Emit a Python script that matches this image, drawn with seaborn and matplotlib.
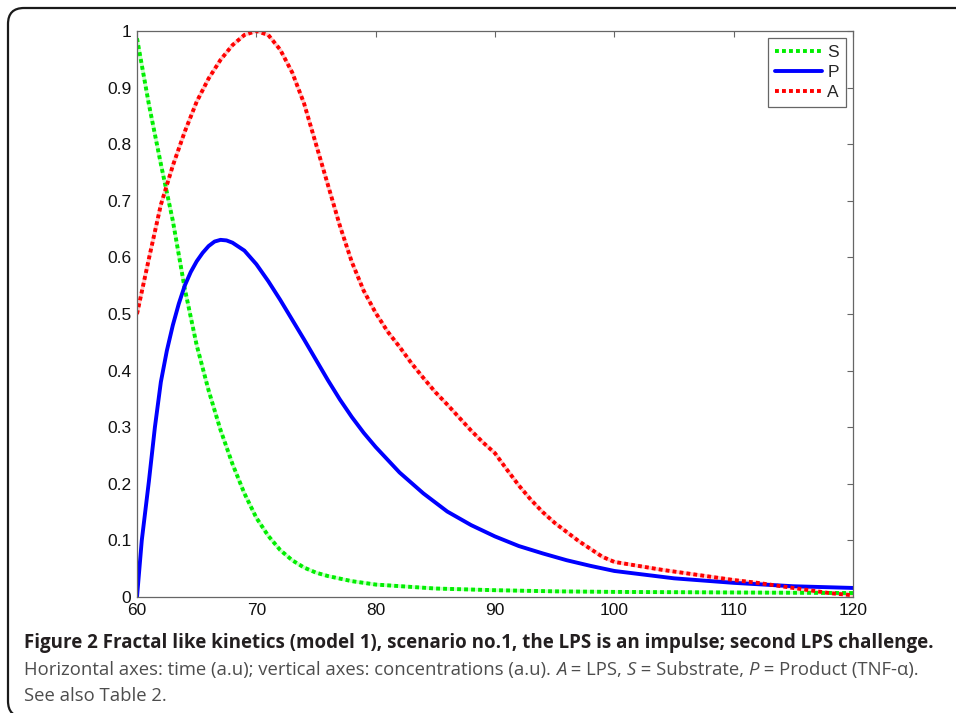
import numpy as np
import pandas as pd
import matplotlib
matplotlib.use('Agg')
import matplotlib.pyplot as plt
from matplotlib.patches import FancyBboxPatch
import seaborn as sns

# ---- data ----
s_time = [60, 61, 62, 63, 64, 65, 66, 67, 68, 69, 70, 71, 72, 73, 74, 75, 76, 78, 80,
          85, 90, 95, 100, 110, 120]
s_conc = [0.987, 0.87, 0.765, 0.665, 0.545, 0.445, 0.365, 0.295, 0.235, 0.183, 0.14, 0.108,
          0.083, 0.065, 0.052, 0.043, 0.037, 0.028, 0.022, 0.015, 0.012, 0.010, 0.009,
          0.008, 0.007]

p_time = [60, 60.4, 61, 61.5, 62, 62.5, 63, 63.5, 64, 64.5, 65, 65.5, 66, 66.5, 67, 67.5,
          68, 69, 70, 71, 72, 73, 74, 75, 76, 77, 78, 79, 80, 82, 84, 86, 88, 90, 92, 94,
          96, 98, 100, 105, 110, 115, 120]
p_conc = [0.0, 0.10, 0.205, 0.30, 0.38, 0.435, 0.48, 0.518, 0.55, 0.574, 0.593, 0.608, 0.62,
          0.628, 0.631, 0.630, 0.626, 0.612, 0.588, 0.558, 0.525, 0.49, 0.455, 0.419, 0.383,
          0.349, 0.318, 0.29, 0.265, 0.22, 0.183, 0.151, 0.127, 0.107, 0.09, 0.077, 0.065,
          0.055, 0.046, 0.033, 0.025, 0.019, 0.016]

a_time = [60, 61, 62, 63, 64, 65, 66, 67, 68, 69, 70, 71, 72, 73, 74, 75, 76, 77, 78, 79,
          80, 81, 82, 83, 84, 85, 86, 87, 88, 89, 90, 91, 92, 93, 94, 95, 96, 97, 98, 99,
          100, 102, 104, 106, 108, 110, 112, 114, 116, 118, 120]
a_conc = [0.50, 0.598, 0.693, 0.762, 0.822, 0.875, 0.916, 0.949, 0.975, 0.993, 1.0, 0.993,
          0.967, 0.927, 0.872, 0.80, 0.728, 0.656, 0.592, 0.541, 0.502, 0.469, 0.442, 0.413,
          0.387, 0.362, 0.340, 0.317, 0.294, 0.273, 0.254, 0.225, 0.197, 0.172, 0.15, 0.131,
          0.115, 0.099, 0.085, 0.071, 0.062, 0.055, 0.048, 0.042, 0.036, 0.030, 0.025, 0.019,
          0.013, 0.007, 0.003]

xticks = [60, 70, 80, 90, 100, 110, 120]
yticks = [0, 0.1, 0.2, 0.3, 0.4, 0.5, 0.6, 0.7, 0.8, 0.9, 1]
ytick_labels = ['0', '0.1', '0.2', '0.3', '0.4', '0.5', '0.6', '0.7', '0.8', '0.9', '1']

sns.set_style('white')
plt.rcParams['font.family'] = ['Liberation Sans', 'DejaVu Sans']

fig = plt.figure(figsize=(9.56, 7.13), dpi=100)
ax = fig.add_axes([137 / 956, 116 / 713, 716 / 956, 566 / 713])

dots = (0, (1, 0.8))
sns.lineplot(x=s_time, y=s_conc, ax=ax, color='#c8ffc8', lw=2.6, legend=False)
sns.lineplot(x=a_time, y=a_conc, ax=ax, color='#ffcccc', lw=2.6, legend=False)
sns.lineplot(x=s_time, y=s_conc, ax=ax, color='#00ee00', lw=2.8, linestyle=dots, label='S')
sns.lineplot(x=p_time, y=p_conc, ax=ax, color='#0000ff', lw=2.8, label='P')
sns.lineplot(x=a_time, y=a_conc, ax=ax, color='#ff0000', lw=2.8, linestyle=dots, label='A')

ax.set_xlim(60, 120)
ax.set_ylim(0, 1)
ax.set_xticks(xticks)
ax.set_xticklabels([str(t) for t in xticks])
ax.set_yticks(yticks)
ax.set_yticklabels(ytick_labels)
ax.tick_params(direction='in', length=4, width=0.8, color='#666666', labelsize=12.5,
               top=True, right=True, pad=4, labelcolor='#111111')
for sp in ax.spines.values():
    sp.set_color('#666666')
    sp.set_linewidth(0.9)
ax.set_xlabel('')
ax.set_ylabel('')

leg = ax.legend(loc='upper right', fontsize=12.5, handlelength=2.7, handletextpad=0.3,
                labelspacing=0.28, borderaxespad=0.42, borderpad=0.4, fancybox=False,
                framealpha=1)
leg.get_frame().set_edgecolor('#666666')
leg.get_frame().set_linewidth(0.9)

# rounded frame round the figure
frame = FancyBboxPatch((0.08, -0.04), 9.7, 7.09, boxstyle='round,pad=0,rounding_size=0.16',
                       transform=fig.dpi_scale_trans, fill=False, edgecolor='#1a1a1a',
                       linewidth=1.6)
fig.add_artist(frame)

# caption, written piece by piece so the italic letters sit inline
renderer = fig.canvas.get_renderer()


def put(x_px, y_px, pieces, size, color):
    for text, weight, style in pieces:
        t = fig.text(x_px / 956, 1 - y_px / 713, text, fontsize=size, color=color,
                     fontweight=weight, fontstyle=style, family=['Open Sans', 'DejaVu Sans'],
                     va='baseline', ha='left')
        x_px += t.get_window_extent(renderer).width
    return x_px


put(24, 648, [('Figure 2 Fractal like kinetics (model 1), scenario no.1, the LPS is an impulse; '
               'second LPS challenge.', 'bold', 'normal')], 13.5, '#231f20')
put(24, 675, [('Horizontal axes: time (a.u); vertical axes: concentrations (a.u). ', 'normal', 'normal'),
              ('A', 'normal', 'italic'), (' = LPS, ', 'normal', 'normal'),
              ('S', 'normal', 'italic'), (' = Substrate, ', 'normal', 'normal'),
              ('P', 'normal', 'italic'), (' = Product (TNF-\u03b1).', 'normal', 'normal')],
    13.3, '#4d4d4d')
put(24, 701, [('See also Table 2.', 'normal', 'normal')], 13.3, '#4d4d4d')

fig.savefig('out.png', dpi=100)
